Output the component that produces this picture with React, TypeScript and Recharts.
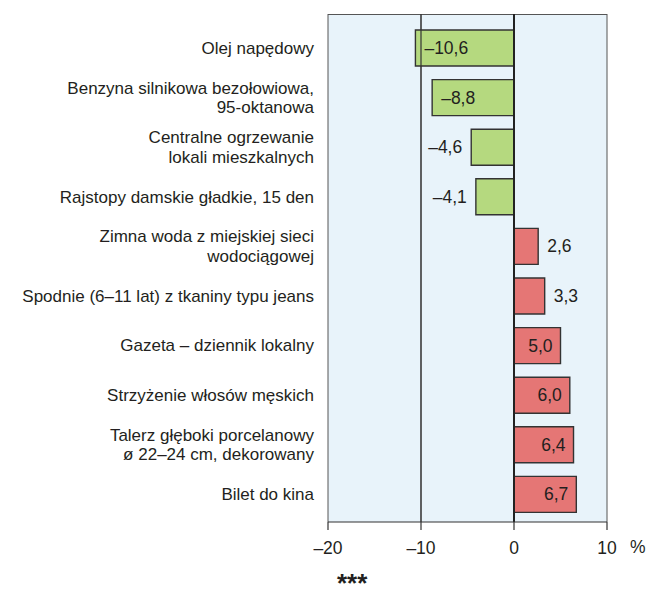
import { Bar, BarChart, CartesianGrid, Cell, LabelList, ReferenceLine, XAxis, YAxis } from "recharts";

const categories = [
  "Olej napędowy",
  "Benzyna silnikowa bezołowiowa,\n95-oktanowa",
  "Centralne ogrzewanie\nlokali mieszkalnych",
  "Rajstopy damskie gładkie, 15 den",
  "Zimna woda z miejskiej sieci\nwodociągowej",
  "Spodnie (6–11 lat) z tkaniny typu jeans",
  "Gazeta – dziennik lokalny",
  "Strzyżenie włosów męskich",
  "Talerz głęboki porcelanowy\nø 22–24 cm, dekorowany",
  "Bilet do kina",
];

const changes = [-10.6, -8.8, -4.6, -4.1, 2.6, 3.3, 5.0, 6.0, 6.4, 6.7];

const xTicks = [-20, -10, 0, 10];

const data = categories.map((name, i) => ({ name, value: changes[i] }));

const FONT = "'Liberation Sans', Arial, sans-serif";
const TEXT = "#231f20";
const FS = 17.5;

const fmt = (v: number) => {
  const s = Math.abs(v).toFixed(1).replace(".", ",");
  return v < 0 ? `–${s}` : s;
};

function CategoryTick(props: any) {
  const { x, y, payload } = props;
  const lines = String(payload.value).split("\n");
  const lh = 19.6;
  const start = -((lines.length - 1) * lh) / 2 + 6;
  return (
    <text x={x - 6} y={y} textAnchor="end" fontSize={17} fontFamily={FONT} fill={TEXT}>
      {lines.map((l, i) => (
        <tspan key={i} x={x - 6} dy={i === 0 ? start : lh}>
          {l}
        </tspan>
      ))}
    </text>
  );
}

function ValueLabel(props: any) {
  const { x, y, width, height, value } = props;
  const left = Math.min(x, x + width);
  const right = Math.max(x, x + width);
  const cy = y + height / 2 + 6;
  const inside = Math.abs(value) >= 5;
  let tx = 0;
  let anchor: "start" | "end" = "start";
  if (value < 0) {
    if (inside) {
      tx = left + 9;
      anchor = "start";
    } else {
      tx = left - 9;
      anchor = "end";
    }
  } else {
    if (inside) {
      tx = right - 8;
      anchor = "end";
    } else {
      tx = right + 9;
      anchor = "start";
    }
  }
  return (
    <text x={tx} y={cy} textAnchor={anchor} fontSize={FS} fontFamily={FONT} fill={TEXT}>
      {fmt(value)}
    </text>
  );
}

export default function App() {
  return (
    <div style={{ position: "absolute", left: 0, top: 0, width: 648, height: 610, background: "#fff" }}>
      <BarChart
        layout="vertical"
        width={648}
        height={610}
        data={data}
        margin={{ top: 14, right: 41, bottom: 0, left: 0 }}
        barCategoryGap={0}
      >
        <CartesianGrid
          fill="#e8f3fa"
          fillOpacity={1}
          stroke="#555"
          strokeWidth={1}
          horizontal={true}
          horizontalPoints={[14.5]}
          vertical={true}
        />
        <XAxis
          type="number"
          domain={[-20, 10]}
          ticks={xTicks}
          height={88}
          tickSize={8}
          tickMargin={12}
          tickFormatter={(v: number) => (v < 0 ? `–${Math.abs(v)}` : `${v}`)}
          axisLine={{ stroke: "#333", strokeWidth: 1.2 }}
          tickLine={{ stroke: "#333", strokeWidth: 1.2 }}
          tick={{ fontSize: FS, fontFamily: FONT, fill: TEXT }}
        />
        <YAxis
          type="category"
          dataKey="name"
          width={328}
          interval={0}
          axisLine={false}
          tickLine={false}
          padding={{ top: 9, bottom: 3 }}
          tick={<CategoryTick />}
        />
        <ReferenceLine x={-10} stroke="#333" strokeWidth={1.2} />
        <Bar dataKey="value" barSize={36} stroke="#333" strokeWidth={1.4} isAnimationActive={false}>
          {data.map((d, i) => (
            <Cell key={i} fill={d.value < 0 ? "#b5d97f" : "#e57675"} />
          ))}
          <LabelList dataKey="value" content={<ValueLabel />} />
        </Bar>
        <ReferenceLine x={0} stroke="#222" strokeWidth={2} />
      </BarChart>
      <div
        style={{
          position: "absolute",
          left: 630,
          top: 537,
          fontSize: FS,
          fontFamily: FONT,
          color: TEXT,
        }}
      >
        %
      </div>
      <div
        style={{
          position: "absolute",
          left: 337,
          top: 568,
          fontSize: 26,
          fontWeight: "bold",
          fontFamily: FONT,
          color: TEXT,
        }}
      >
        ***
      </div>
    </div>
  );
}
